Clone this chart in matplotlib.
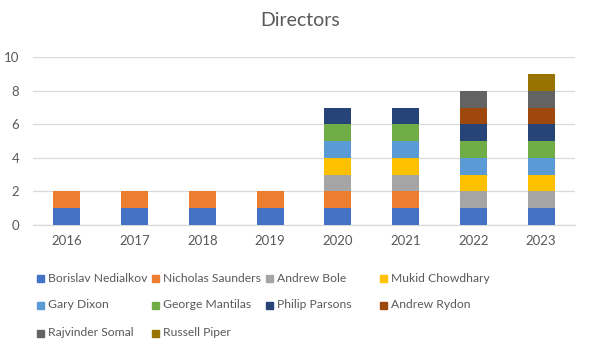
import numpy as np
import matplotlib.pyplot as plt
from matplotlib.patches import Rectangle

plt.rcParams['font.family'] = ['Lato', 'DejaVu Sans']

years = ['2016', '2017', '2018', '2019', '2020', '2021', '2022', '2023']

directors = ['Borislav Nedialkov', 'Nicholas Saunders', 'Andrew Bole', 'Mukid Chowdhary',
             'Gary Dixon', 'George Mantilas', 'Philip Parsons', 'Andrew Rydon',
             'Rajvinder Somal', 'Russell Piper']

borislav = [1, 1, 1, 1, 1, 1, 1, 1]
nicholas = [1, 1, 1, 1, 1, 1, 0, 0]
andrew_bole = [0, 0, 0, 0, 1, 1, 1, 1]
mukid = [0, 0, 0, 0, 1, 1, 1, 1]
gary = [0, 0, 0, 0, 1, 1, 1, 1]
george = [0, 0, 0, 0, 1, 1, 1, 1]
philip = [0, 0, 0, 0, 1, 1, 1, 1]
andrew_rydon = [0, 0, 0, 0, 0, 0, 1, 1]
rajvinder = [0, 0, 0, 0, 0, 0, 1, 1]
russell = [0, 0, 0, 0, 0, 0, 0, 1]

series = [borislav, nicholas, andrew_bole, mukid, gary, george, philip,
          andrew_rydon, rajvinder, russell]

colors = ['#4472C4', '#ED7D31', '#A5A5A5', '#FFC000', '#5B9BD5',
          '#70AD47', '#264478', '#9E480E', '#636363', '#997300']

W, H = 589, 348
txt = '#595959'

fig = plt.figure(figsize=(W / 100, H / 100), dpi=100)
ax = fig.add_axes([33 / W, 1 - 225 / H, (575 - 33) / W, (225 - 57.3) / H])

x = np.arange(len(years))
bottom = np.zeros(len(years))
for vals, c in zip(series, colors):
    v = np.array(vals, dtype=float)
    ax.bar(x, v, 0.4, bottom=bottom, color=c, zorder=3)
    bottom += v

ax.set_xlim(-0.5, len(years) - 0.5)
ax.set_ylim(0, 10)
ax.set_yticks(range(0, 11, 2))
ax.set_xticks(x)
ax.set_xticklabels(years)
ax.grid(axis='y', color='#D9D9D9', lw=0.9, zorder=0)
for s in ['top', 'right', 'left']:
    ax.spines[s].set_visible(False)
ax.spines['bottom'].set_color('#D9D9D9')
ax.spines['bottom'].set_linewidth(0.9)
ax.tick_params(length=0, colors=txt, labelsize=9.5)
ax.tick_params(axis='x', pad=7)
ax.tick_params(axis='y', pad=10)

fig.text(300 / W, 1 - 20 / H, 'Directors', ha='center', va='center',
         fontsize=14, color=txt)

# legend laid out on a fixed grid, four entries per row
col_x = [37, 152, 266, 380]
row_y = [278, 305, 333]
for i, (name, c) in enumerate(zip(directors, colors)):
    px = col_x[i % 4]
    py = row_y[i // 4]
    fig.add_artist(Rectangle((px / W, 1 - (py + 3.5) / H), 7 / W, 7 / H,
                             transform=fig.transFigure, color=c))
    fig.text((px + 11) / W, 1 - py / H, name, ha='left', va='center',
             fontsize=8.7, color=txt)

fig.savefig('out.png', dpi=100)
